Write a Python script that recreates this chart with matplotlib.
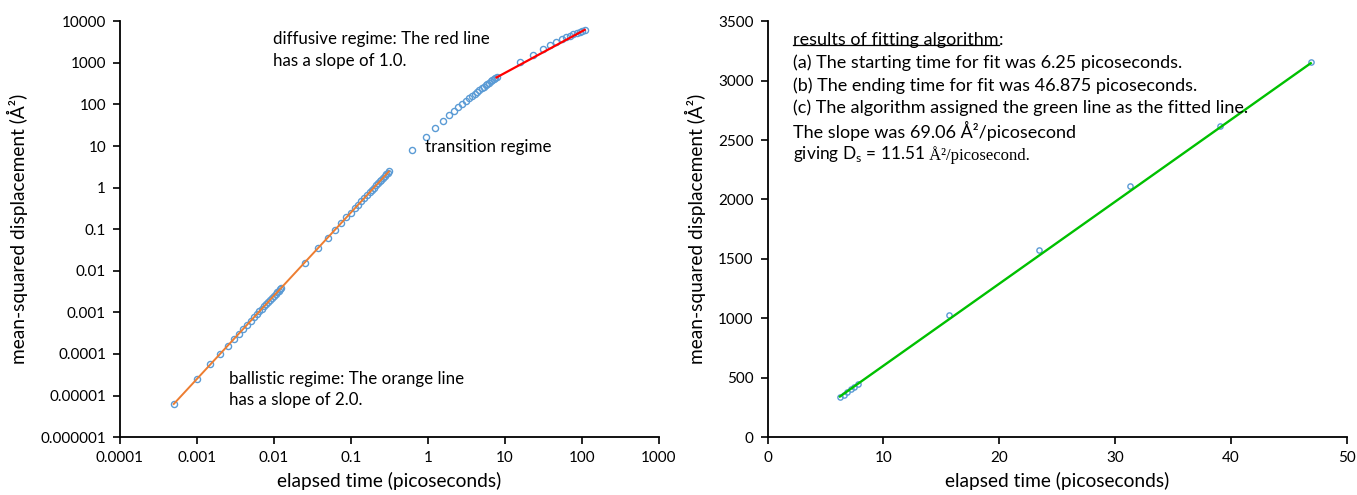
import numpy as np
import matplotlib
matplotlib.use("Agg")
import matplotlib.pyplot as plt
from matplotlib.lines import Line2D

plt.rcParams['font.family'] = ['Lato', 'DejaVu Sans']
plt.rcParams['mathtext.fontset'] = 'custom'
plt.rcParams['mathtext.rm'] = 'Lato'

# --- data (time in ps, msd in A^2) ---
ballistic_fine_t = [0.0005, 0.001, 0.0015, 0.002, 0.0025, 0.003, 0.0035, 0.004, 0.0045,
                    0.005, 0.0055, 0.006, 0.0065, 0.007, 0.0075, 0.008, 0.0085, 0.009,
                    0.0095, 0.01, 0.0105, 0.011, 0.0115, 0.012, 0.0125]
ballistic_fine_msd = [6.3e-6, 2.5e-5, 5.6e-5, 1.0e-4, 1.56e-4, 2.25e-4, 3.06e-4, 4.0e-4,
                      5.06e-4, 6.25e-4, 7.56e-4, 9.0e-4, 1.06e-3, 1.23e-3, 1.41e-3, 1.6e-3,
                      1.81e-3, 2.03e-3, 2.26e-3, 2.5e-3, 2.76e-3, 3.03e-3, 3.31e-3, 3.6e-3,
                      3.91e-3]

ballistic_coarse_t = [0.025, 0.0375, 0.05, 0.0625, 0.075, 0.0875, 0.1, 0.1125, 0.125,
                      0.1375, 0.15, 0.1625, 0.175, 0.1875, 0.2, 0.2125, 0.225, 0.2375,
                      0.25, 0.2625, 0.275, 0.2875, 0.3, 0.3125]
ballistic_coarse_msd = [0.0156, 0.0352, 0.0625, 0.0977, 0.141, 0.191, 0.25, 0.316, 0.391,
                        0.473, 0.563, 0.66, 0.766, 0.879, 1.0, 1.13, 1.27, 1.41, 1.56,
                        1.72, 1.89, 2.07, 2.25, 2.44]

transition_t = [0.625, 0.9375, 1.25, 1.5625, 1.875, 2.1875, 2.5, 2.8125, 3.125, 3.4375,
                3.75, 4.0625, 4.375, 4.6875, 5.0, 5.3125, 5.625, 5.9375, 6.25, 6.5625,
                6.875, 7.1875, 7.5, 7.8125]
transition_msd = [8.0, 16.5, 27, 40, 55, 70, 87, 104, 121, 141, 161, 182, 203, 224, 246,
                  268, 291, 313, 336, 358, 380, 402, 424, 446]

diffusive_t = [15.625, 23.4375, 31.25, 39.0625, 46.875, 54.6875, 62.5, 70.3125, 78.125,
               85.9375, 93.75, 101.5625, 109.375]
diffusive_msd = [1026, 1573, 2111, 2616, 3154, 3650, 4100, 4500, 4850, 5250, 5600, 5900,
                 6050]

# points used by the fit (right panel)
fit_t = [6.25, 6.5625, 6.875, 7.1875, 7.5, 7.8125, 15.625, 23.4375, 31.25, 39.0625, 46.875]
fit_msd = [336, 358, 380, 402, 424, 446, 1026, 1573, 2111, 2616, 3154]

# fitted lines
orange_coef = 25.0      # msd = c * t^2
red_coef = 57.0         # msd = c * t
green_slope = 69.06
green_intercept = -90.0

log_xticks = [0.0001, 0.001, 0.01, 0.1, 1, 10, 100, 1000]
log_xlabels = ['0.0001', '0.001', '0.01', '0.1', '1', '10', '100', '1000']
log_yticks = [1e-6, 1e-5, 1e-4, 1e-3, 1e-2, 1e-1, 1, 10, 100, 1000, 10000]
log_ylabels = ['0.000001', '0.00001', '0.0001', '0.001', '0.01', '0.1', '1', '10', '100',
               '1000', '10000']

BLUE = '#5B9BD5'
ORANGE = '#ED7D31'
RED = '#FF0000'
GREEN = '#00C000'

fig = plt.figure(figsize=(13.57, 4.95), dpi=100)
ax1 = fig.add_axes([0.0884, 0.117, 0.397, 0.840])
ax2 = fig.add_axes([0.5656, 0.117, 0.427, 0.840])

def style(ax):
    for s in ['top', 'right']:
        ax.spines[s].set_visible(False)
    for s in ['left', 'bottom']:
        ax.spines[s].set_linewidth(1.3)
    ax.tick_params(direction='out', length=5, width=1.2, labelsize=11, pad=5)
    ax.tick_params(which='minor', length=0)

# ---- left: log-log ----
all_t = [ballistic_fine_t, ballistic_coarse_t, transition_t, diffusive_t]
all_m = [ballistic_fine_msd, ballistic_coarse_msd, transition_msd, diffusive_msd]
for t, m in zip(all_t, all_m):
    ax1.plot(t, m, 'o', ls='none', mfc='none', mec=BLUE, ms=4.4, mew=1.0, zorder=2)

tb = np.geomspace(ballistic_fine_t[0], ballistic_coarse_t[-1], 50)
ax1.plot(tb, orange_coef * tb**2, color=ORANGE, lw=1.4, zorder=3)
td = np.array([transition_t[-1], diffusive_t[-1]])
ax1.plot(td, red_coef * td, color=RED, lw=1.6, zorder=3)

ax1.set_xscale('log')
ax1.set_yscale('log')
ax1.set_xlim(0.0001, 1000)
ax1.set_ylim(1e-6, 1e4)
ax1.set_xticks(log_xticks)
ax1.set_xticklabels(log_xlabels)
ax1.set_yticks(log_yticks)
ax1.set_yticklabels(log_ylabels)
style(ax1)
ax1.set_xlabel('elapsed time (picoseconds)', fontsize=13.8, labelpad=5)
ax1.set_ylabel('mean-squared displacement (Å²)', fontsize=13.8, labelpad=9)

ann_fs = 12.2
ax1.text(0.284, 0.977, 'diffusive regime: The red line\nhas a slope of 1.0.',
         transform=ax1.transAxes, fontsize=ann_fs, va='top', linespacing=1.45)
ax1.text(0.566, 0.697, 'transition regime', transform=ax1.transAxes,
         fontsize=ann_fs, va='center')
ax1.text(0.202, 0.160, 'ballistic regime: The orange line\nhas a slope of 2.0.',
         transform=ax1.transAxes, fontsize=ann_fs, va='top', linespacing=1.45)

# ---- right: linear ----
ax2.plot(fit_t, fit_msd, 'o', ls='none', mfc='none', mec=BLUE, ms=3.8, mew=1.0, zorder=2)
tg = np.array([fit_t[0], fit_t[-1]])
ax2.plot(tg, green_slope * tg + green_intercept, color=GREEN, lw=1.7, zorder=3)
ax2.set_xlim(0, 50)
ax2.set_ylim(0, 3500)
ax2.set_xticks([0, 10, 20, 30, 40, 50])
ax2.set_yticks(range(0, 3501, 500))
style(ax2)
ax2.set_xlabel('elapsed time (picoseconds)', fontsize=13.8, labelpad=5)
ax2.set_ylabel('mean-squared displacement (Å²)', fontsize=13.8, labelpad=9)

x0 = 0.044
lines_y = [0.956, 0.901, 0.846, 0.791, 0.736]
fs = 13.0
head = ax2.text(x0, lines_y[0], 'results of fitting algorithm', transform=ax2.transAxes,
                fontsize=fs, va='center')
ax2.annotate(':', xy=(1, 0), xycoords=head, va='bottom', ha='left', fontsize=fs)
ax2.text(x0, lines_y[1], '(a) The starting time for fit was 6.25 picoseconds.',
         transform=ax2.transAxes, fontsize=fs, va='center')
ax2.text(x0, lines_y[2], '(b) The ending time for fit was 46.875 picoseconds.',
         transform=ax2.transAxes, fontsize=fs, va='center')
ax2.text(x0, lines_y[3], '(c) The algorithm assigned the green line as the fitted line.',
         transform=ax2.transAxes, fontsize=fs, va='center')
ax2.text(x0, lines_y[4], 'The slope was 69.06 Å²/picosecond',
         transform=ax2.transAxes, fontsize=fs, va='center')
g = ax2.text(x0, 0.668, 'giving D$_\\mathrm{s}$ = 11.51',
             transform=ax2.transAxes, fontsize=12.4, va='baseline')
ax2.annotate(' Å²/picosecond.', xy=(1, 0), xycoords=g, va='bottom', ha='left',
             fontsize=12, family='Liberation Serif')

# underline the heading
fig.canvas.draw()
bb = head.get_window_extent()
inv = fig.transFigure.inverted()
(ux0, uy), (ux1, _) = inv.transform([(bb.x0, bb.y0 + 3), (bb.x1, bb.y0 + 3)])
fig.add_artist(Line2D([ux0, ux1], [uy, uy], color='black', lw=0.9))

fig.savefig('out.png', dpi=100)
